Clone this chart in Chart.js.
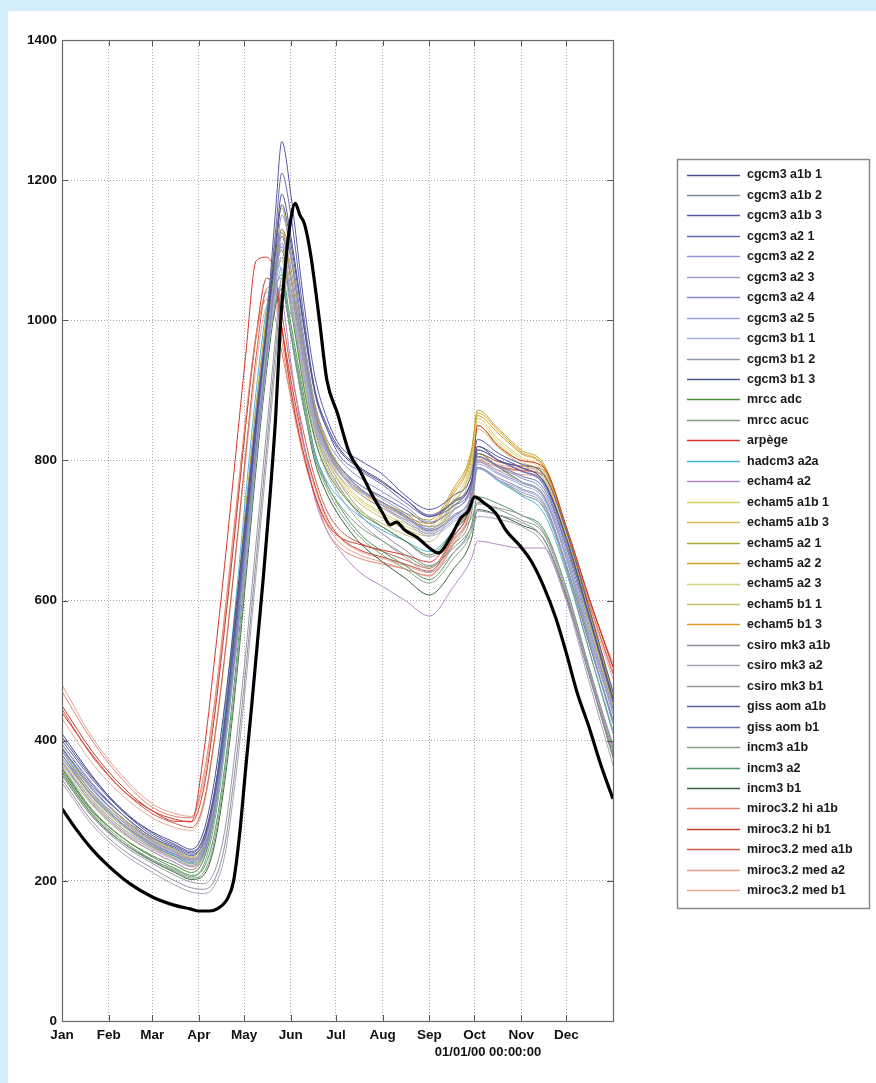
<!DOCTYPE html>
<html>
<head>
<meta charset="utf-8">
<title>Hydrogrammes simulés</title>
<script src="https://cdn.jsdelivr.net/npm/chart.js@4.4.1/dist/chart.umd.min.js"></script>
<style>
  html, body { margin: 0; padding: 0; background: #d3eefa; }
  #cadre { position: absolute; left: 8px; top: 11px; width: 868px; height: 1072px; background: #fff; }
  canvas { display: block; }
</style>
</head>
<body>
<div id="cadre"><canvas id="graphique" width="868" height="1072"></canvas></div>
<script>
// Axe des x : jours depuis le 1er janvier (année 2000, bissextile)
const MONTH_DAYS = [0, 31, 60, 91, 121, 152, 182, 213, 244, 274, 305, 335];
const MONTH_LABELS = ['Jan', 'Feb', 'Mar', 'Apr', 'May', 'Jun', 'Jul', 'Aug', 'Sep', 'Oct', 'Nov', 'Dec'];
const Y_TICKS = [0, 200, 400, 600, 800, 1000, 1200, 1400];
const DATE_LABEL = '01/01/00 00:00:00';

// Jours échantillonnés pour les simulations
const DAYS = [0, 20, 40, 60, 75, 86, 94, 101, 108, 115, 122, 129, 136, 142, 146, 152, 161, 168, 176, 185, 198, 213, 228, 244, 260, 272, 276, 290, 305, 320, 335, 350, 366];

const cgcm3A1b1 = [410,350,300,270, 255,245,270,340, 450,580,720,860, 990,1110,1180,1120, 990,900,850,815, 790,770,745,720, 740,770,820,800, 790,770,690,580, 460];
const cgcm3A1b2 = [380,320,280,250, 235,225,240,300, 400,530,680,820, 950,1070,1130,1090, 960,870,820,790, 760,740,720,700, 720,750,790,775, 760,740,650,540, 430];
const cgcm3A1b3 = [400,345,300,265, 250,240,260,320, 420,560,700,850, 1000,1160,1255,1180, 1020,920,860,820, 800,780,750,730, 750,780,830,810, 795,780,700,590, 470];
const cgcm3A21 = [390,335,295,262, 248,238,255,315, 410,545,690,840, 990,1130,1210,1150, 1000,900,845,805, 785,765,740,720, 735,765,815,800, 785,765,680,575, 455];
const cgcm3A22 = [370,315,275,248, 232,222,238,295, 395,520,665,810, 950,1060,1110,1060, 940,860,815,785, 760,735,715,695, 715,745,790,772, 755,735,650,540, 425];
const cgcm3A23 = [395,340,295,258, 242,232,250,310, 415,545,690,830, 960,1070,1100,1030, 920,850,810,780, 755,740,720,700, 720,752,800,785, 770,750,665,555, 440];
const cgcm3A24 = [375,322,282,252, 238,230,246,302, 400,530,675,820, 960,1080,1150,1100, 970,880,830,800, 775,755,735,712, 730,760,805,790, 775,755,670,560, 445];
const cgcm3A25 = [385,330,288,256, 240,228,244,300, 398,525,670,812, 945,1050,1090,1040, 930,855,812,782, 758,738,718,698, 718,748,795,780, 765,745,660,550, 438];
const cgcm3B11 = [365,312,272,245, 230,220,236,292, 390,515,660,805, 940,1040,1075,1020, 915,845,805,775, 752,732,712,692, 712,742,788,772, 758,738,652,542, 430];
const cgcm3B12 = [380,326,285,254, 238,228,242,298, 396,522,668,812, 948,1060,1120,1075, 950,865,818,788, 765,745,725,705, 722,752,798,782, 768,748,662,552, 440];
const cgcm3B13 = [405,348,302,268, 252,242,262,325, 428,565,705,850, 985,1100,1165,1110, 985,895,845,812, 788,768,745,722, 742,772,820,805, 790,770,688,578, 458];
const mrccAdc = [360,300,262,236, 222,212,230,290, 400,540,700,860, 990,1080,1100,1020, 900,830,785,755, 725,705,685,665, 700,745,810,790, 770,750,660,545, 425];
const mrccAcuc = [350,292,255,230, 216,206,222,280, 385,520,680,840, 970,1050,1060,980, 870,805,765,735, 705,685,665,648, 680,725,790,772, 752,732,645,530, 410];
const arpege = [440,380,330,300, 285,285,380,510, 650,800,950,1085, 1090,1060,990,900, 805,750,710,690, 680,672,665,655, 700,760,850,820, 800,790,705,605, 505];
const hadcm3A2a = [385,325,282,252, 236,226,250,320, 440,590,750,900, 1020,1080,1070,980, 870,810,770,745, 720,700,685,670, 700,740,790,770, 750,725,640,530, 415];
const echam4A2 = [370,310,270,242, 226,216,238,300, 410,555,715,870, 990,1040,1030,940, 820,745,700,670, 640,620,600,578, 620,660,685,680, 675,675,600,500, 395];
const echam5A1b1 = [375,318,278,250, 234,224,244,305, 415,555,710,860, 990,1085,1110,1040, 930,860,810,775, 745,725,710,700, 745,800,860,830, 805,785,695,580, 460];
const echam5A1b3 = [368,312,272,246, 230,220,238,298, 405,545,700,850, 980,1070,1090,1020, 915,848,800,768, 738,718,702,692, 738,792,850,822, 798,778,688,572, 452];
const echam5A21 = [390,330,290,260, 244,234,256,320, 430,575,730,880, 1010,1120,1160,1090, 960,880,825,790, 760,740,725,715, 760,815,872,845, 815,795,705,590, 468];
const echam5A22 = [380,322,282,254, 238,228,248,310, 420,562,718,868, 998,1095,1125,1060, 945,870,818,782, 752,732,716,706, 752,806,864,838, 810,790,700,585, 462];
const echam5A23 = [372,315,275,248, 232,222,240,300, 408,548,702,852, 982,1075,1100,1035, 925,855,805,772, 742,722,706,696, 740,795,855,826, 802,782,692,576, 456];
const echam5B11 = [362,308,268,242, 226,216,234,292, 398,538,692,842, 972,1065,1085,1015, 905,838,790,758, 728,710,694,684, 730,785,845,818, 794,774,684,568, 448];
const echam5B13 = [385,326,286,257, 241,231,252,315, 425,568,724,874, 1004,1100,1130,1065, 950,875,822,786, 756,736,720,710, 756,810,868,842, 812,792,702,588, 465];
const csiroA1b = [345,285,245,218, 200,190,188,200, 250,360,500,660, 820,960,1040,1030, 930,845,795,760, 722,695,672,650, 675,705,728,722, 712,688,608,495, 375];
const csiroA2 = [340,280,240,212, 194,184,182,192, 235,340,480,640, 800,940,1020,1010, 915,832,782,748, 712,685,662,640, 668,698,720,716, 706,680,600,485, 365];
const csiroB1 = [352,292,252,225, 208,198,196,212, 270,385,525,685, 845,980,1060,1045, 945,855,802,766, 730,705,685,662, 688,718,738,732, 722,698,618,502, 382];
const gissA1b = [395,338,295,262, 246,236,256,318, 425,565,720,870, 1000,1095,1120,1060, 950,870,822,790, 765,748,730,710, 735,770,815,800, 785,768,685,575, 455];
const gissB1 = [388,332,290,258, 242,232,250,312, 418,556,710,860, 990,1082,1105,1045, 938,860,814,782, 758,740,722,702, 728,762,806,792, 778,760,676,566, 448];
const incm3A1b = [358,298,258,230, 214,204,212,255, 350,480,640,800, 940,1030,1050,985, 880,805,760,725, 690,665,645,625, 660,700,740,730, 715,695,612,500, 385];
const incm3A2 = [362,302,262,234, 218,208,218,265, 362,495,655,815, 955,1045,1065,995, 888,812,766,732, 695,670,650,630, 668,708,748,738, 722,702,618,506, 390];
const incm3B1 = [355,295,255,228, 212,202,208,248, 340,470,628,790, 930,1022,1045,980, 872,798,752,718, 682,655,632,608, 645,688,730,722, 708,688,605,495, 378];
const mirocHiA1b = [470,400,345,305, 292,290,350,450, 580,720,860,980, 1030,1000,955,890, 800,750,700,675, 660,652,645,635, 680,735,800,790, 785,780,698,598, 498];
const mirocHiB1 = [450,385,335,300, 288,284,330,430, 560,700,850,980, 1060,1040,990,915, 820,765,718,690, 672,662,652,642, 690,745,810,798, 792,786,704,604, 505];
const mirocMedA1b = [445,378,330,296, 282,276,310,400, 520,660,810,950, 1045,1050,1010,930, 835,775,728,700, 682,670,658,646, 692,742,805,792, 786,778,696,596, 495];
const mirocMedA2 = [480,405,350,310, 296,292,340,440, 570,710,850,975, 1040,1020,970,890, 805,752,708,682, 665,655,645,636, 684,738,802,794, 789,783,702,602, 510];
const mirocMedB1 = [432,368,322,290, 276,272,305,395, 515,655,800,935, 1020,1025,985,905, 815,760,714,688, 670,660,650,640, 686,736,798,786, 780,772,690,590, 488];

// Série observée (trait noir épais)
const OBS_DAYS = [0, 10, 20, 31, 45, 60, 75, 85, 91, 98, 103, 110, 114, 118, 122, 126, 130, 134, 138, 142, 145, 148, 151, 155, 158, 161, 165, 171, 176, 183, 191, 198, 205, 213, 218, 222, 228, 236, 244, 250, 258, 265, 270, 274, 280, 288, 295, 305, 312, 320, 328, 335, 342, 350, 358, 366];
const OBS_VALUES = [303, 272, 245, 221, 196, 177, 165, 160, 157, 157, 160, 175, 200, 267, 360, 450, 545, 640, 745, 865, 990, 1070, 1130, 1167, 1150, 1138, 1096, 1000, 914, 867, 810, 785, 755, 725, 708, 712, 700, 690, 675, 668, 690, 718, 728, 748, 740, 725, 700, 676, 655, 620, 575, 525, 470, 420, 365, 317];

const MODEL_NAMES = ['cgcm3 a1b 1', 'cgcm3 a1b 2', 'cgcm3 a1b 3', 'cgcm3 a2 1', 'cgcm3 a2 2', 'cgcm3 a2 3', 'cgcm3 a2 4', 'cgcm3 a2 5',
  'cgcm3 b1 1', 'cgcm3 b1 2', 'cgcm3 b1 3', 'mrcc adc', 'mrcc acuc', 'arpège', 'hadcm3 a2a', 'echam4 a2',
  'echam5 a1b 1', 'echam5 a1b 3', 'echam5 a2 1', 'echam5 a2 2', 'echam5 a2 3', 'echam5 b1 1', 'echam5 b1 3',
  'csiro mk3 a1b', 'csiro mk3 a2', 'csiro mk3 b1', 'giss aom a1b', 'giss aom b1', 'incm3 a1b', 'incm3 a2', 'incm3 b1',
  'miroc3.2 hi a1b', 'miroc3.2 hi b1', 'miroc3.2 med a1b', 'miroc3.2 med a2', 'miroc3.2 med b1'];
const MODEL_SERIES = [cgcm3A1b1, cgcm3A1b2, cgcm3A1b3, cgcm3A21, cgcm3A22, cgcm3A23, cgcm3A24, cgcm3A25,
  cgcm3B11, cgcm3B12, cgcm3B13, mrccAdc, mrccAcuc, arpege, hadcm3A2a, echam4A2,
  echam5A1b1, echam5A1b3, echam5A21, echam5A22, echam5A23, echam5B11, echam5B13,
  csiroA1b, csiroA2, csiroB1, gissA1b, gissB1, incm3A1b, incm3A2, incm3B1,
  mirocHiA1b, mirocHiB1, mirocMedA1b, mirocMedA2, mirocMedB1];

const COLORS = ['#4a4f8c', '#8088a8', '#5558a0', '#6468b4', '#9496d0', '#a0a0cc', '#8a8cc8', '#9ca4dc',
  '#a4acd8', '#9096b4', '#50568c', '#4a8a3a', '#7e9e7e', '#d8362a', '#4cb4d8', '#b488c8',
  '#d4cc60', '#d8bc5c', '#b0a830', '#c8a030', '#d4d488', '#c0c070', '#e89a28',
  '#8e8e9c', '#a4a4b4', '#9898a0', '#5460a8', '#6a72b0', '#86a086', '#4e9a62', '#3a663a',
  '#e48470', '#c44030', '#c8624e', '#e8a08c', '#eca898'];

const FONT_FAMILY = '"Liberation Sans", Arial, Helvetica, sans-serif';

const datasets = MODEL_SERIES.map((vals, i) => ({
    label: MODEL_NAMES[i],
    data: vals.map((v, j) => ({ x: DAYS[j], y: v })),
    borderColor: COLORS[i],
    borderWidth: 1,
    pointRadius: 0,
    cubicInterpolationMode: 'monotone'
}));

datasets.push({
    label: 'observé',
    data: OBS_VALUES.map((v, j) => ({ x: OBS_DAYS[j], y: v })),
    borderColor: '#000',
    borderWidth: 3.2,
    pointRadius: 0,
    cubicInterpolationMode: 'monotone',
    order: -1
});

// Cadre façon Matlab, graduations intérieures, légende et date
const cadrePlugin = {
    id: 'cadre',
    afterDraw(chart) {
        const ctx = chart.ctx;
        const a = chart.chartArea;
        const sx = chart.scales.x;
        const sy = chart.scales.y;
        ctx.save();

        ctx.strokeStyle = '#555';
        ctx.lineWidth = 1;
        ctx.beginPath();
        MONTH_DAYS.forEach(d => {
            const px = Math.round(sx.getPixelForValue(d)) + 0.5;
            ctx.moveTo(px, a.bottom); ctx.lineTo(px, a.bottom - 6);
            ctx.moveTo(px, a.top); ctx.lineTo(px, a.top + 6);
        });
        Y_TICKS.forEach(v => {
            const py = Math.round(sy.getPixelForValue(v)) + 0.5;
            ctx.moveTo(a.left, py); ctx.lineTo(a.left + 6, py);
            ctx.moveTo(a.right, py); ctx.lineTo(a.right - 6, py);
        });
        ctx.stroke();

        ctx.strokeStyle = '#6a6a6a';
        ctx.lineWidth = 1.2;
        ctx.strokeRect(a.left + 0.5, a.top + 0.5, a.right - a.left, a.bottom - a.top);

        ctx.fillStyle = '#111';
        ctx.font = 'bold 13px ' + FONT_FAMILY;
        ctx.textAlign = 'center';
        ctx.textBaseline = 'middle';
        ctx.fillText(DATE_LABEL, 480, 1041);

        // légende
        const lx = 669, ly = 148, lw = 192, lh = 749, step = 20.45;
        ctx.fillStyle = '#fff';
        ctx.fillRect(lx, ly, lw, lh);
        ctx.strokeStyle = '#8a8a8a';
        ctx.lineWidth = 1.5;
        ctx.strokeRect(lx + 0.5, ly + 0.5, lw, lh);
        ctx.textAlign = 'left';
        ctx.font = 'bold 12.5px ' + FONT_FAMILY;
        MODEL_NAMES.forEach((name, i) => {
            const yy = ly + 15.5 + i * step;
            ctx.strokeStyle = COLORS[i];
            ctx.lineWidth = 1.3;
            ctx.beginPath();
            ctx.moveTo(lx + 10, Math.round(yy) + 0.5);
            ctx.lineTo(lx + 63, Math.round(yy) + 0.5);
            ctx.stroke();
            ctx.fillStyle = '#1a1a1a';
            ctx.fillText(name, lx + 70, yy + 0.5);
        });

        ctx.restore();
    }
};

new Chart(document.getElementById('graphique').getContext('2d'), {
    type: 'line',
    data: { datasets: datasets },
    options: {
        responsive: false,
        animation: false,
        layout: { padding: { top: 29, right: 263, bottom: 0, left: 0 } },
        plugins: {
            legend: { display: false },
            tooltip: { enabled: false }
        },
        scales: {
            x: {
                type: 'linear',
                min: 0,
                max: 366,
                afterBuildTicks: (scale) => {
                    scale.ticks = MONTH_DAYS.map(d => ({ value: d }));
                },
                afterFit: (scale) => { scale.height = 62; },
                grid: { color: '#a8a8a8', drawTicks: false },
                border: { display: false, dash: [1, 2] },
                ticks: {
                    autoSkip: false,
                    maxRotation: 0,
                    padding: 6,
                    color: '#111',
                    font: { family: FONT_FAMILY, size: 13.5, weight: 'bold' },
                    callback: (value) => MONTH_LABELS[MONTH_DAYS.indexOf(value)]
                }
            },
            y: {
                min: 0,
                max: 1400,
                afterFit: (scale) => { scale.width = 54; },
                grid: { color: '#a8a8a8', drawTicks: false },
                border: { display: false, dash: [1, 2] },
                ticks: {
                    stepSize: 200,
                    padding: 5,
                    color: '#111',
                    font: { family: FONT_FAMILY, size: 13.5, weight: 'bold' },
                    callback: (value) => String(value)
                }
            }
        }
    },
    plugins: [cadrePlugin]
});
</script>
</body>
</html>
